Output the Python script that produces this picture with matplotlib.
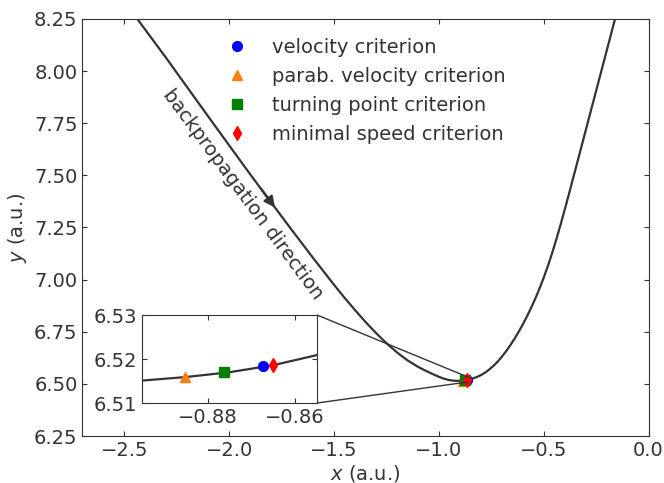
import numpy as np
import matplotlib; matplotlib.use("Agg")
import matplotlib.pyplot as plt
from matplotlib.ticker import MultipleLocator
from mpl_toolkits.axes_grid1.inset_locator import mark_inset

# trajectory
traj_x = [-2.45, -2.30, -2.10, -1.90, -1.80, -1.70, -1.60, -1.50, -1.45, -1.40, -1.35,
          -1.30, -1.25, -1.20, -1.15, -1.10, -1.075, -1.05, -1.025, -1.00, -0.975,
          -0.95, -0.93, -0.915, -0.905, -0.895, -0.885, -0.875, -0.865, -0.855,
          -0.84, -0.82, -0.80, -0.78, -0.76, -0.74, -0.72, -0.70, -0.68, -0.66,
          -0.64, -0.62, -0.60, -0.58, -0.56, -0.54, -0.52, -0.50, -0.48, -0.46,
          -0.44, -0.42, -0.40, -0.38, -0.35, -0.30, -0.25, -0.20, -0.15]
traj_y = [8.266, 8.062, 7.782, 7.505, 7.370, 7.236, 7.104, 6.975, 6.913, 6.854, 6.797,
          6.744, 6.695, 6.651, 6.613, 6.582, 6.569, 6.557, 6.545, 6.534, 6.5245,
          6.5180, 6.5152, 6.5145, 6.5146, 6.5151, 6.5159, 6.5170, 6.5186, 6.5209,
          6.5253, 6.5325, 6.5417, 6.5537, 6.5685, 6.5861, 6.6065, 6.6297, 6.6557, 6.6841,
          6.7151, 6.7487, 6.7847, 6.8233, 6.8647, 6.9091, 6.9571, 7.0091, 7.0655, 7.1265,
          7.1921, 7.2617, 7.3345, 7.4093, 7.5233, 7.7143, 7.9053, 8.0963, 8.2873]

# exit points found by the criteria
crit_labels = ["velocity criterion", "parab. velocity criterion",
               "turning point criterion", "minimal speed criterion"]
crit_x = [-0.8673, -0.8852, -0.8762, -0.8650]
crit_y = [6.5183, 6.5158, 6.5170, 6.5187]
crit_marker = ["o", "^", "s", "d"]
crit_color = ["#0000ff", "#ff7f0e", "#008000", "#ff0000"]
crit_size = [7, 7, 6.5, 7.5]

dk = "#333333"
plt.rcParams.update({"font.size": 14, "text.color": dk, "axes.labelcolor": dk,
                     "xtick.color": dk, "ytick.color": dk, "axes.edgecolor": dk,
                     "xtick.direction": "in", "ytick.direction": "in",
                     "xtick.top": True, "ytick.right": True})

fig = plt.figure(figsize=(6.64, 4.83), dpi=100)
ax = fig.add_axes([0.1242, 0.0973, 0.8525, 0.8634])
ax.plot(traj_x, traj_y, color=dk, lw=1.6, zorder=2)
for x, y, m, c, s, lab in zip(crit_x, crit_y, crit_marker, crit_color, crit_size, crit_labels):
    ax.plot([x], [y], ls="none", marker=m, color=c, ms=s, label=lab, zorder=3)
ax.set_xlim(-2.7, 0.0); ax.set_ylim(6.25, 8.25)
ax.xaxis.set_major_locator(MultipleLocator(0.5))
ax.yaxis.set_major_locator(MultipleLocator(0.25))
ax.set_xlabel("$x$ (a.u.)", labelpad=2); ax.set_ylabel("$y$ (a.u.)")
ax.legend(loc="upper left", bbox_to_anchor=(0.225, 0.974), borderaxespad=0, frameon=False,
          numpoints=1, labelspacing=0.52)

# direction arrow + text
ax.annotate("", xy=(-1.782, 7.346), xytext=(-1.85, 7.438),
            arrowprops=dict(arrowstyle="-|>", color=dk, lw=1.6, mutation_scale=16, shrinkA=0, shrinkB=0))
ax.text(-1.937, 7.411, "backpropagation direction", rotation=-53.5, rotation_mode="anchor",
        ha="center", va="center", fontsize=14)

# inset
axins = fig.add_axes([0.2139, 0.1656, 0.2636, 0.1822])
axins.plot(traj_x, traj_y, color=dk, lw=1.6, zorder=2)
for x, y, m, c, s in zip(crit_x, crit_y, crit_marker, crit_color, crit_size):
    axins.plot([x], [y], ls="none", marker=m, color=c, ms=s, zorder=3)
axins.set_xlim(-0.895, -0.855); axins.set_ylim(6.51, 6.53)
axins.xaxis.set_major_locator(MultipleLocator(0.02))
axins.set_yticks([6.51, 6.52, 6.53])
mark_inset(ax, axins, loc1=1, loc2=4, fc="none", ec=dk, lw=1.0)

fig.savefig("out.png", dpi=100)
